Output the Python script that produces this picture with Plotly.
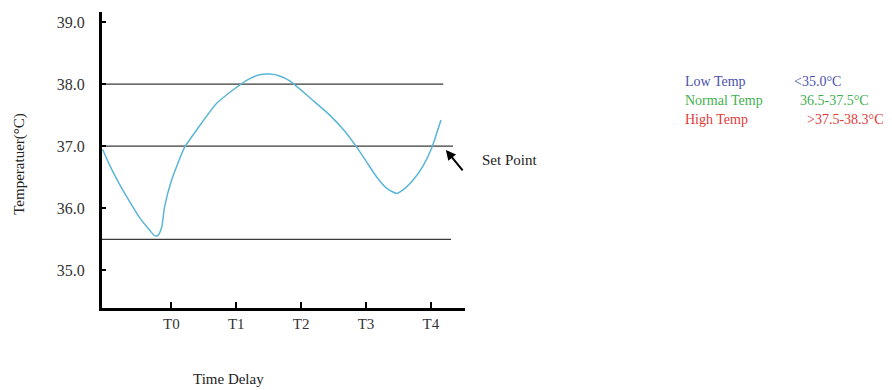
import plotly.graph_objects as go

# ---- data ----
time_ticks = [0, 1, 2, 3, 4]
time_labels = ["T0", "T1", "T2", "T3", "T4"]
temp_ticks = [35.0, 36.0, 37.0, 38.0, 39.0]
temp_labels = ["35.0", "36.0", "37.0", "38.0", "39.0"]

curve_t = [-1.06, -0.95, -0.80, -0.645, -0.49, -0.336, -0.26, -0.21, -0.15, -0.105,
           0.003, 0.204, 0.389, 0.698, 0.944, 1.16, 1.361, 1.515, 1.67, 1.824,
           2.179, 2.441, 2.673, 2.858, 3.012, 3.167, 3.321, 3.475, 3.599, 3.722,
           3.877, 4.015, 4.154]
curve_temp = [36.95, 36.69, 36.39, 36.11, 35.85, 35.65, 35.56, 35.56, 35.69, 36.02,
              36.45, 36.98, 37.26, 37.69, 37.90, 38.06, 38.15, 38.16, 38.13, 38.05,
              37.74, 37.50, 37.24, 36.98, 36.74, 36.50, 36.32, 36.24, 36.32, 36.45,
              36.68, 36.98, 37.42]

ref_levels = [38.0, 37.0, 35.5]
ref_start = [-1.069, -1.069, -1.069]
ref_end = [4.19, 4.34, 4.31]

legend_names = ["Low Temp", "Normal Temp", "High Temp"]
legend_ranges = ["<35.0°C", "36.5-37.5°C", ">37.5-38.3°C"]
legend_colors = ["#4b4fb0", "#3fb050", "#e03a3a"]

set_point_t = 4.23
set_point_temp = 36.94

FONT = "Liberation Serif"

fig = go.Figure()

for lvl, s, e in zip(ref_levels, ref_start, ref_end):
    fig.add_trace(go.Scatter(x=[s, e], y=[lvl, lvl], mode="lines",
                             line=dict(color="#3a3a3a", width=1.3),
                             showlegend=False, hoverinfo="skip"))

fig.add_trace(go.Scatter(x=curve_t, y=curve_temp, mode="lines",
                         line=dict(color="#5ab6d6", width=1.5, shape="spline", smoothing=0.6),
                         showlegend=False))

fig.update_layout(
    width=892, height=390,
    margin=dict(l=94, r=435, t=4, b=90),
    paper_bgcolor="white", plot_bgcolor="white",
    font=dict(family=FONT, size=15, color="#333"),
    xaxis=dict(range=[-1.069, 4.525], tickvals=time_ticks, ticktext=time_labels,
               showgrid=False, zeroline=False, showline=True, linecolor="black",
               linewidth=3, ticks="inside", ticklen=6, tickwidth=2, tickcolor="black",
               tickfont=dict(family=FONT, size=15, color="#333")),
    yaxis=dict(range=[34.395, 39.16], tickvals=temp_ticks, ticktext=temp_labels,
               showgrid=False, zeroline=False, showline=True, linecolor="black",
               linewidth=3, ticks="inside", ticklen=4, tickwidth=2, tickcolor="black",
               ticklabelstandoff=11,
               tickfont=dict(family=FONT, size=16, color="#333")),
)

ann = []
ann.append(dict(text="Temperatuer(°C)", xref="paper", yref="paper", x=-0.227, y=0.486,
                xanchor="center", yanchor="middle",
                textangle=-90, showarrow=False, font=dict(family=FONT, size=15, color="#222")))
ann.append(dict(text="Time Delay", xref="paper", yref="paper", x=0.349, y=-0.239,
                xanchor="center", yanchor="middle",
                showarrow=False, font=dict(family=FONT, size=15, color="#222")))
ann.append(dict(text="", x=set_point_t, y=set_point_temp, xref="x", yref="y",
                showarrow=True, arrowhead=2, arrowsize=1, arrowwidth=2, arrowcolor="black",
                ax=18, ay=22))
ann.append(dict(text="Set Point", xref="paper", yref="paper", x=1.041, y=0.499,
                xanchor="left", yanchor="middle",
                showarrow=False, font=dict(family=FONT, size=15, color="#222")))

rows_y = [0.766, 0.702, 0.638]
range_x = [1.902, 1.916, 1.938]
for name, rng, col, yy, rx in zip(legend_names, legend_ranges, legend_colors, rows_y, range_x):
    ann.append(dict(text=name, xref="paper", yref="paper", x=1.601, y=yy,
                    xanchor="left", yanchor="middle",
                    showarrow=False, font=dict(family=FONT, size=14, color=col)))
    ann.append(dict(text=rng, xref="paper", yref="paper", x=rx, y=yy,
                    xanchor="left", yanchor="middle",
                    showarrow=False, font=dict(family=FONT, size=14, color=col)))

fig.update_layout(annotations=ann)
fig.write_html("out.html")
